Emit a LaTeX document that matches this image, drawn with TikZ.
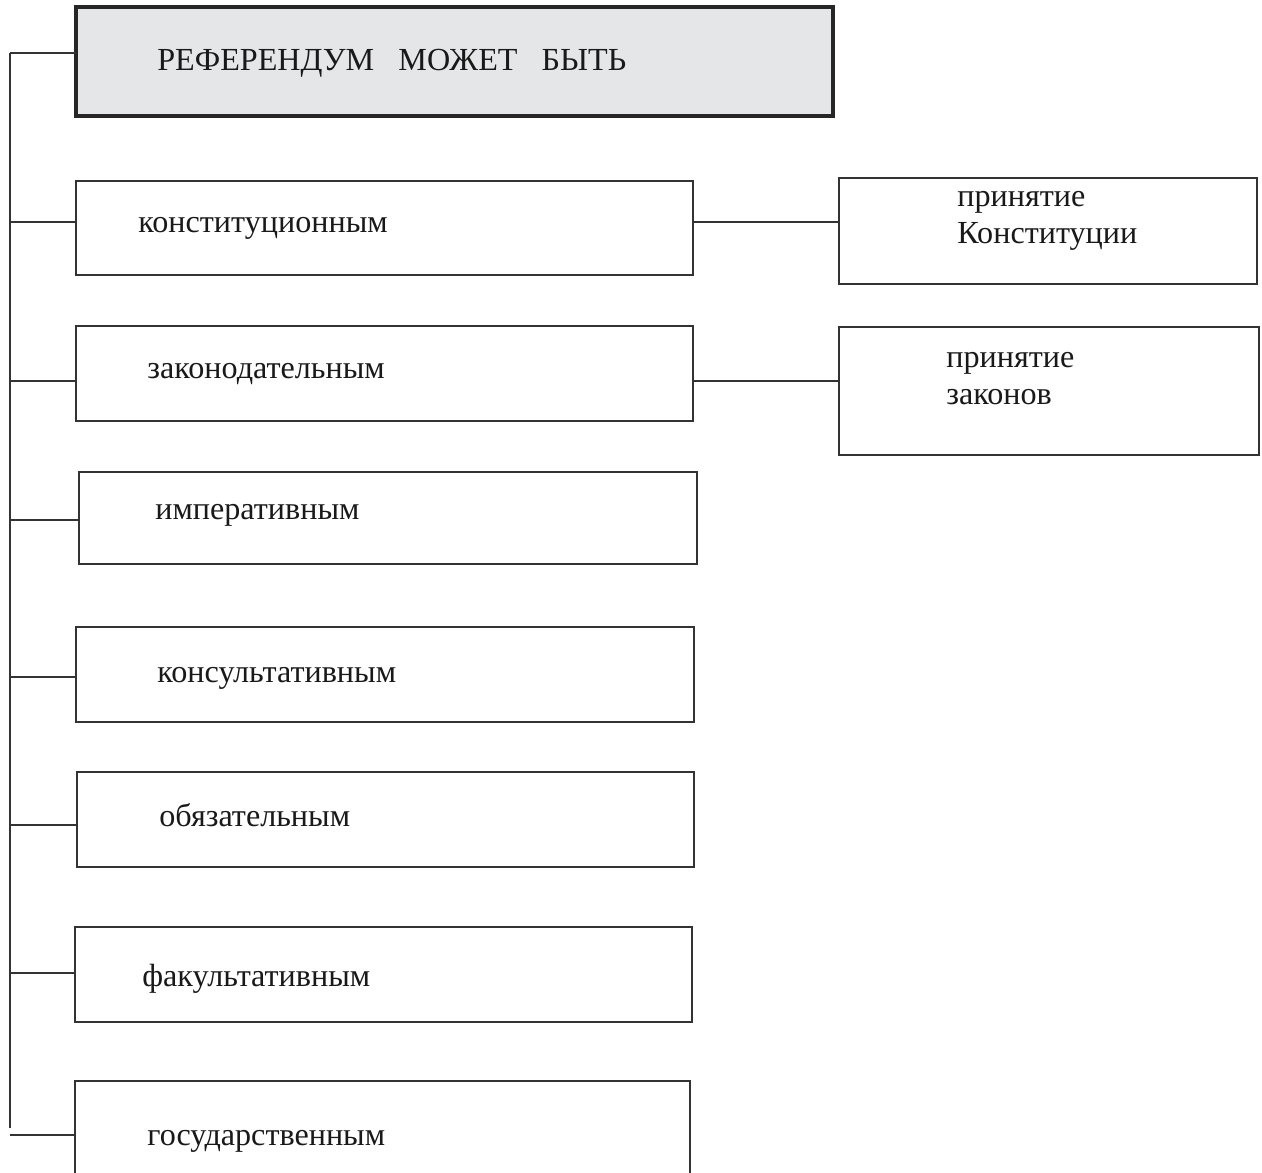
\documentclass[tikz,border=0pt]{standalone}
\usepackage{fontspec}
\setmainfont{Liberation Serif}
\definecolor{headgrey}{HTML}{E5E6E8}
\definecolor{linegrey}{HTML}{333333}

\begin{document}
\begin{tikzpicture}[x=0.02cm, y=-0.02cm,
    box/.style={draw=linegrey, line width=0.85pt, inner sep=0pt, outer sep=0pt},
    lbl/.style={anchor=base west, inner sep=0pt, text=black!90, font=\fontsize{18.3}{20.6}\selectfont},
    link/.style={draw=linegrey, line width=0.85pt}]

    \useasboundingbox (0,0) rectangle (1262,1173);
    \clip (0,0) rectangle (1262,1173);

    % main box
    \node[box, line width=1.8pt, draw=black!85, fill=headgrey,
        minimum width=757*0.02cm, minimum height=109*0.02cm] (head) at (454.5,61.5) {};
    \node[lbl] (headtxt) at (157,71) {РЕФЕРЕНДУМ\ \ \ МОЖЕТ\ \ \ БЫТЬ};

    % kinds
    \node[box, minimum width=617*0.02cm, minimum height=94*0.02cm] (konst) at (384.5,228) {};
    \node[box, minimum width=617*0.02cm, minimum height=95*0.02cm] (zakon) at (384.5,373.5) {};
    \node[box, minimum width=618*0.02cm, minimum height=92*0.02cm] (imper) at (388,518) {};
    \node[box, minimum width=618*0.02cm, minimum height=95*0.02cm] (konsult) at (385,674.5) {};
    \node[box, minimum width=617*0.02cm, minimum height=95*0.02cm] (obyaz) at (385.5,819.5) {};
    \node[box, minimum width=617*0.02cm, minimum height=95*0.02cm] (fakult) at (383.5,974.5) {};
    \node[box, minimum width=615*0.02cm, minimum height=100*0.02cm] (gosud) at (382.5,1131) {};

    \node[lbl] (konsttxt) at (138,232) {конституционным};
    \node[lbl] (zakontxt) at (147,378) {законодательным};
    \node[lbl] (impertxt) at (155,519) {императивным};
    \node[lbl] (konsulttxt) at (157,682) {консультативным};
    \node[lbl] (obyaztxt) at (159,826) {обязательным};
    \node[lbl] (fakulttxt) at (142,986) {факультативным};
    \node[lbl] (gosudtxt) at (147,1145) {государственным};

    % goals
    \node[box, minimum width=418*0.02cm, minimum height=106*0.02cm] (prkonst) at (1048,231) {};
    \node[box, minimum width=420*0.02cm, minimum height=128*0.02cm] (przakon) at (1049,391) {};
    \node[lbl, align=left] (prkonsttxt) at (957,243) {принятие\\Конституции};
    \node[lbl, align=left] (przakontxt) at (946,404) {принятие\\законов};

    % spine
    \coordinate (s0) at (10,53);
    \coordinate (s1) at (10,222);
    \coordinate (s2) at (10,381);
    \coordinate (s3) at (10,520);
    \coordinate (s4) at (10,677);
    \coordinate (s5) at (10,825);
    \coordinate (s6) at (10,973);
    \coordinate (send) at (10,1128);
    \coordinate (s7) at (10,1135);

    \draw[link] (s0) -- (send);
    \draw[link] (s0) -- (s0 -| head.west);
    \draw[link] (s1) -- (s1 -| konst.west);
    \draw[link] (s2) -- (s2 -| zakon.west);
    \draw[link] (s3) -- (s3 -| imper.west);
    \draw[link] (s4) -- (s4 -| konsult.west);
    \draw[link] (s5) -- (s5 -| obyaz.west);
    \draw[link] (s6) -- (s6 -| fakult.west);
    \draw[link] (s7) -- (s7 -| gosud.west);

    \draw[link] (s1 -| konst.east) -- (s1 -| prkonst.west);
    \draw[link] (s2 -| zakon.east) -- (s2 -| przakon.west);

\end{tikzpicture}
\end{document}
